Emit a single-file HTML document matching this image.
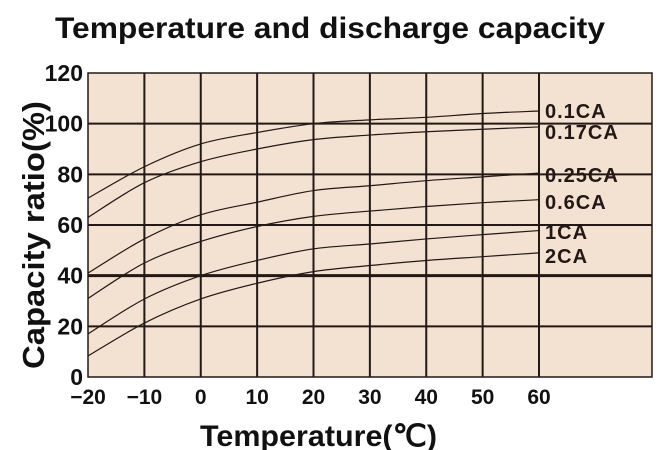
<!DOCTYPE html>
<html><head><meta charset="utf-8"><style>
body{margin:0;background:#fff;}
svg{display:block;font-family:"Liberation Sans",sans-serif;}
</style></head><body>
<svg width="659" height="450" viewBox="0 0 659 450">
<text x="55" y="38" textLength="550" lengthAdjust="spacingAndGlyphs" font-size="30" font-weight="bold" fill="#111">Temperature and discharge capacity</text>
<rect x="88" y="73" width="564" height="304" fill="#f3e2d1" stroke="#231815" stroke-width="1.5"/>
<g id="grid"></g><g id="curves"></g><g id="labels"></g>
<text transform="translate(44,235) rotate(-90)" text-anchor="middle" textLength="268" lengthAdjust="spacingAndGlyphs" font-size="31" font-weight="bold" fill="#111">Capacity ratio(%)</text>
<text x="200" y="446" textLength="237" lengthAdjust="spacingAndGlyphs" font-size="30" font-weight="bold" fill="#111">Temperature(℃)</text>
</svg>
<script>
const temps=[-20,-10,0,10,20,30,40,50,60];
const yTicks=[0,20,40,60,80,100,120];
const xTickLabels=["−20","−10","0","10","20","30","40","50","60"];
const seriesNames=["0.1CA","0.17CA","0.25CA","0.6CA","1CA","2CA"];
const s01=[70.6,83,92,96.5,100,101.5,102.5,104,105];
const s017=[63,76.7,85,90,93.7,95.5,96.8,97.8,98.7];
const s025=[41,54.5,64,69,73.6,75.5,77.5,79,80.5];
const s06=[31,45,53.5,59.4,63.4,65.5,67.3,68.8,70];
const s1=[17,30.8,40,46,50.6,52.5,54.5,56.2,57.8];
const s2=[8.3,21.3,30.8,37,41.6,44,46,47.5,49];
const labelY=[118,139,182,209,239,263];
const allSeries=[s01,s017,s025,s06,s1,s2];
const NS="http://www.w3.org/2000/svg";
const x=v=>88+(v+20)*(539-88)/80;
const y=v=>377-v*(304/120);
function mk(t,a,p){const e=document.createElementNS(NS,t);for(const k in a)e.setAttribute(k,a[k]);p.appendChild(e);return e;}
const g=document.getElementById('grid');
yTicks.forEach(v=>{
 if(v>0&&v<120){const l=mk('line',{x1:88,x2:652,y1:y(v),y2:y(v),stroke:'#231815','stroke-width':v===40?3:2},g);
 
 }
 const t=mk('text',{x:83,y:y(v)+8,'text-anchor':'end','font-size':23,'font-weight':'bold',fill:'#111'},g);t.textContent=v;
 
 
});
temps.forEach((v,i)=>{
 if(i>0){const l=mk('line',{x1:x(v),x2:x(v),y1:73,y2:377,stroke:'#231815','stroke-width':2},g);
 
 }
 const t=mk('text',{x:x(v),y:404,'text-anchor':'middle','font-size':21,'font-weight':'bold',fill:'#111'},g);t.textContent=xTickLabels[i];
 
 
});
const c=document.getElementById('curves'),lb=document.getElementById('labels');
allSeries.forEach((s,i)=>{
 const P=s.map((v,k)=>[x(temps[k]),y(v)]);
 let d='M'+P[0][0]+','+P[0][1];
 for(let k=0;k<P.length-1;k++){
  const p0=P[Math.max(k-1,0)],p1=P[k],p2=P[k+1],p3=P[Math.min(k+2,P.length-1)];
  const c1=[p1[0]+(p2[0]-p0[0])/6,p1[1]+(p2[1]-p0[1])/6];
  const c2=[p2[0]-(p3[0]-p1[0])/6,p2[1]-(p3[1]-p1[1])/6];
  d+=` C${c1[0]},${c1[1]} ${c2[0]},${c2[1]} ${p2[0]},${p2[1]}`;
 }
 const p=mk('path',{d:d,fill:'none',stroke:'#231815','stroke-width':1.2},c);
 
 
 const t=mk('text',{x:545,y:labelY[i],'font-size':20,'font-weight':'bold','letter-spacing':1,fill:'#231815'},lb);t.textContent=seriesNames[i];
 
 
});
</script>
</body></html>
